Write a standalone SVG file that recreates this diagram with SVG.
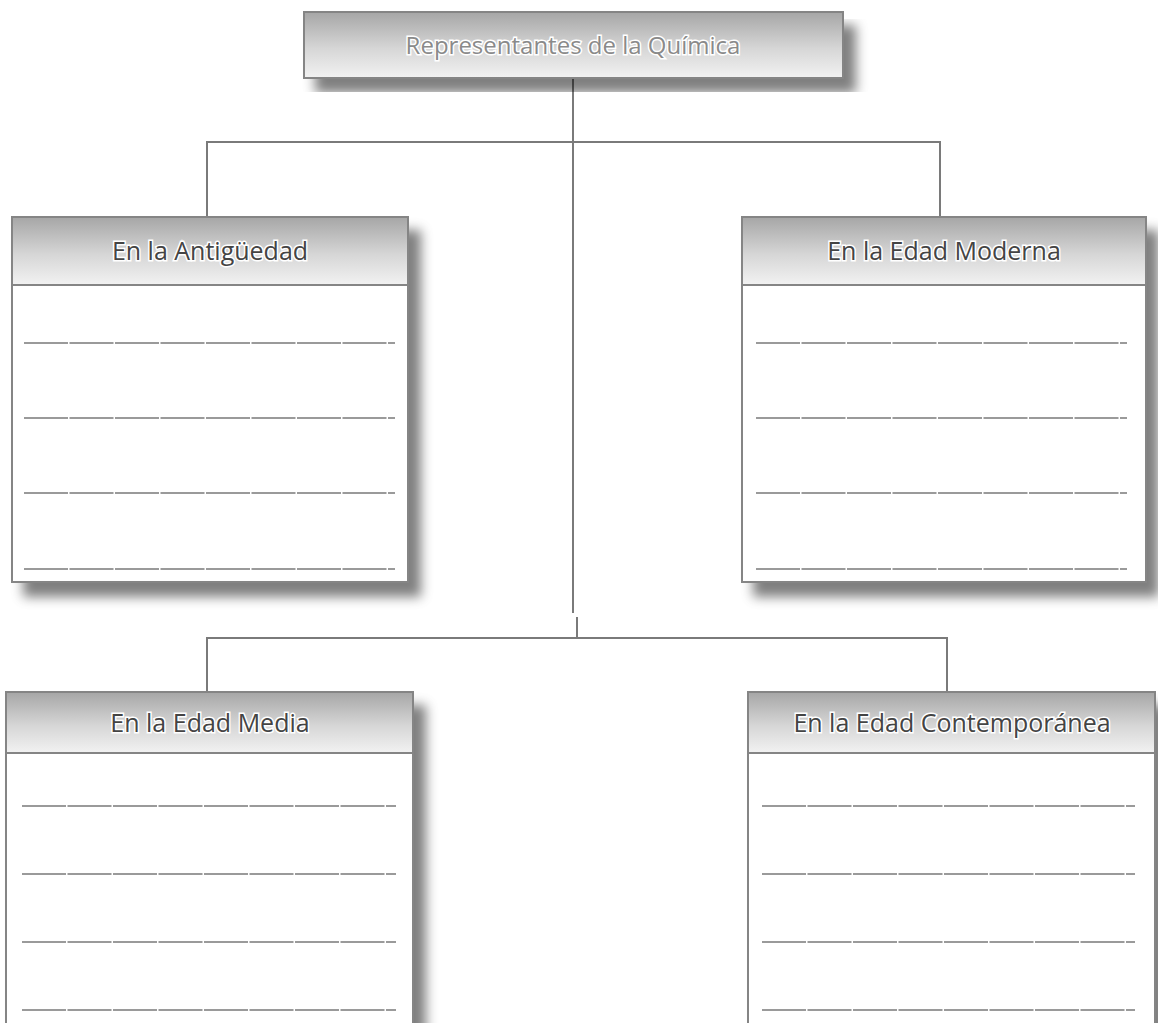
<svg xmlns="http://www.w3.org/2000/svg" width="1158" height="1023" viewBox="0 0 1158 1023">
<defs>
<linearGradient id="hg" x1="0" y1="0" x2="0" y2="1">
<stop offset="0" stop-color="#a6a6a6"/>
<stop offset="0.55" stop-color="#d6d6d6"/>
<stop offset="1" stop-color="#f2f2f2"/>
</linearGradient>
<filter id="sh" x="-10%" y="-10%" width="130%" height="130%">
<feGaussianBlur in="SourceAlpha" stdDeviation="6"/>
<feOffset dx="12" dy="14" result="b"/>
<feFlood flood-color="#000" flood-opacity="0.5"/>
<feComposite in2="b" operator="in"/>
<feMerge><feMergeNode/><feMergeNode in="SourceGraphic"/></feMerge>
</filter>
</defs>
<style>
.box{fill:#fff;stroke:#858585;stroke-width:2}
.hdr{fill:url(#hg);stroke:#858585;stroke-width:2}
.ln{stroke:#9a9a9a;stroke-width:2;stroke-dasharray:44 1.5;fill:none}
.con{stroke:#7a7a7a;stroke-width:2;fill:none}
.t{font-family:"Open Sans","Liberation Sans",sans-serif;font-size:25px;fill:#444;text-anchor:middle;stroke:#fff;stroke-width:3;paint-order:stroke}
.tt{font-family:"Open Sans","Liberation Sans",sans-serif;font-size:24px;fill:#8a8a8a;text-anchor:middle;stroke:#fff;stroke-width:3;paint-order:stroke}
</style>
<g id="connectors">
<path class="con" d="M573 78 V613"/>
<path class="con" d="M207 217 V142 H940 V217"/>
<path class="con" d="M577 617 V638"/>
<path class="con" d="M207 692 V638 H947 V692"/>
</g>
<g id="root">
<rect x="304" y="12" width="539" height="66" class="hdr" filter="url(#sh)"/>
<text x="573" y="54" class="tt">Representantes de la Química</text>
</g>
<g id="antiguedad">
<rect x="12" y="217" width="396" height="365" class="box" filter="url(#sh)"/>
<rect x="12" y="217" width="396" height="68" class="hdr"/>
<text x="210" y="260" class="t">En la Antigüedad</text>
<path class="ln" d="M24 343 H395 M24 418 H395 M24 493 H395 M24 569 H395"/>
</g>
<g id="moderna">
<rect x="742" y="217" width="404" height="365" class="box" filter="url(#sh)"/>
<rect x="742" y="217" width="404" height="68" class="hdr"/>
<text x="944" y="260" class="t">En la Edad Moderna</text>
<path class="ln" d="M756 343 H1127 M756 418 H1127 M756 493 H1127 M756 569 H1127"/>
</g>
<g id="media">
<rect x="6" y="692" width="407" height="360" class="box" filter="url(#sh)"/>
<rect x="6" y="692" width="407" height="61" class="hdr"/>
<text x="210" y="732" class="t">En la Edad Media</text>
<path class="ln" d="M22 806 H396 M22 874 H396 M22 942 H396 M22 1010 H396"/>
</g>
<g id="contemporanea">
<rect x="748" y="692" width="407" height="360" class="box" filter="url(#sh)"/>
<rect x="748" y="692" width="407" height="61" class="hdr"/>
<text x="952" y="732" class="t">En la Edad Contemporánea</text>
<path class="ln" d="M762 806 H1135 M762 874 H1135 M762 942 H1135 M762 1010 H1135"/>
</g>
</svg>
